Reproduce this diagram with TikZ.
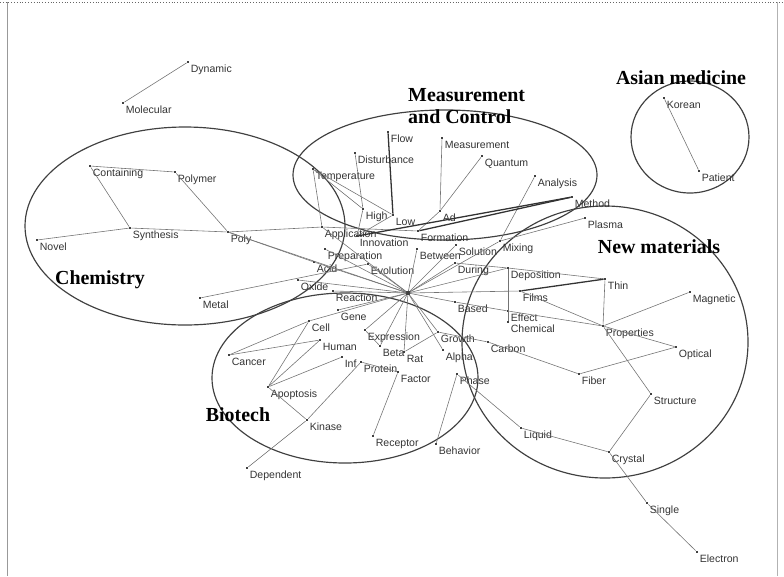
\documentclass[tikz,border=0pt]{standalone}
\usepackage{fontspec}
\setmainfont{Liberation Serif}
\setsansfont{Liberation Sans}
\usetikzlibrary{positioning}
\definecolor{cline}{gray}{0.45}
\definecolor{cring}{gray}{0.25}

\begin{document}
\begin{tikzpicture}[x=0.03cm, y=-0.03cm,
  term/.style={rectangle, fill=black!75, inner sep=0pt, minimum size=2pt},
  lbl/.style={font=\sffamily\fontsize{9}{10}\selectfont, inner sep=1pt, text=black!80},
  link/.style={cline, line width=0.5pt},
  heavy/.style={black!80, line width=1.1pt},
  ring/.style={cring, line width=1pt},
  area/.style={font=\rmfamily\bfseries\fontsize{17}{19.5}\selectfont, inner sep=0pt}]
  \useasboundingbox (0,0) rectangle (784,576);

  % frame
  \draw [black!60, dotted] (0,2) -- (784,2);
  \draw [black!40, line width=0.8pt] (7,2) -- (7,576);
  \draw [black!30, line width=0.8pt] (777,2) -- (777,576);

  % group rings
  \draw [ring] (185,226) ellipse [x radius=160, y radius=99];
  \draw [ring] (445,175) ellipse [x radius=152, y radius=65];
  \draw [ring] (605,342) ellipse [x radius=143, y radius=136];
  \draw [ring] (345,378) ellipse [x radius=133, y radius=85];
  \draw [ring] (690,137) ellipse [x radius=59, y radius=56];

  % group names
  \node [area] (chem) at (100,280) {Chemistry};
  \node [area] (bio) at (238,415) {Biotech};
  \node [area] (newmat) at (659,247) {New materials};
  \node [area] (asian) at (681,78) {Asian medicine};
  \node [area, align=left, anchor=west] (meas) at (408,106) {Measurement\\and Control};

  % terms
  \foreach \nm/\px/\py/\lab in {
    dynamic/188/62/Dynamic, molecular/123/103/Molecular,
    containing/90/166/Containing, polymer/175/172/Polymer, synthesis/130/228/Synthesis,
    poly/228/232/Poly, novel/37/240/Novel, metal/200/298/Metal, acid/314/262/Acid,
    oxide/298/280/Oxide,
    flow/388/132/Flow, measurement/442/138/Measurement, disturbance/355/153/Disturbance,
    quantum/482/156/Quantum, temperature/313/169/Temperature, analysis/535/176/Analysis,
    high/363/209/High, low/393/215/Low, ad/440/211/Ad, application/322/227/Application,
    formation/418/231/Formation, innovation/357/236/Innovation, method/572/197/Method,
    preparation/325/249/Preparation, between/417/249/Between, solution/456/245/Solution,
    mixing/500/241/Mixing, evolution/368/264/Evolution, during/455/263/During,
    reaction/333/291/Reaction,
    plasma/585/218/Plasma, deposition/508/268/Deposition, thin/605/279/Thin,
    films/520/291/Films, magnetic/690/292/Magnetic, based/455/302/Based,
    effect/508/311/Effect, chemical/508/322/Chemical, properties/603/326/Properties,
    carbon/488/342/Carbon, optical/676/347/Optical, fiber/579/374/Fiber,
    structure/651/394/Structure, liquid/521/428/Liquid, crystal/609/452/Crystal,
    single/647/503/Single, electron/697/552/Electron,
    gene/338/310/Gene, cell/309/321/Cell, expression/365/330/Expression,
    growth/438/332/Growth, human/320/340/Human, beta/380/346/Beta, rat/404/352/Rat,
    alpha/443/350/Alpha, cancer/229/355/Cancer, inf/342/357/Inf, protein/361/362/Protein,
    factor/398/372/Factor, phase/457/374/Phase, apoptosis/268/387/Apoptosis,
    kinase/307/420/Kinase, receptor/373/436/Receptor, behavior/436/444/Behavior,
    dependent/247/468/Dependent,
    korean/664/98/Korean, patient/699/171/Patient} {
    \node [term, label={[lbl]below right:\lab}] (\nm) at (\px,\py) {};
  }
  \node [term, minimum size=3pt] (hub) at (408,293) {};

  % links
  \foreach \a/\b in {dynamic/molecular, korean/patient,
    containing/polymer, containing/synthesis, polymer/poly, novel/synthesis,
    synthesis/poly, poly/acid, poly/hub, poly/application, metal/evolution,
    oxide/hub, acid/hub, preparation/hub, application/hub, evolution/hub,
    between/hub, solution/hub, during/hub, mixing/hub, deposition/hub, films/hub,
    based/hub, growth/hub, alpha/hub, expression/hub, gene/hub, reaction/hub,
    beta/hub, rat/hub, cell/hub,
    temperature/high, temperature/low, temperature/application, disturbance/high,
    measurement/ad, quantum/ad, analysis/mixing, high/innovation, low/innovation,
    ad/formation, application/formation, plasma/mixing,
    deposition/thin, thin/properties, films/properties, effect/properties,
    deposition/chemical, properties/magnetic, properties/optical,
    properties/structure, carbon/fiber, fiber/optical, structure/crystal,
    liquid/crystal, crystal/single, single/electron, phase/liquid, based/effect,
    during/deposition, growth/carbon,
    cancer/cell, cancer/human, apoptosis/cell, apoptosis/human, apoptosis/inf,
    kinase/apoptosis, kinase/protein, kinase/dependent, receptor/factor,
    behavior/phase, protein/factor, growth/rat, expression/beta} {
    \draw [link] (\a) -- (\b);
  }
  \foreach \a/\b in {flow/low, films/thin, method/formation, method/innovation} {
    \draw [heavy] (\a) -- (\b);
  }
\end{tikzpicture}
\end{document}
